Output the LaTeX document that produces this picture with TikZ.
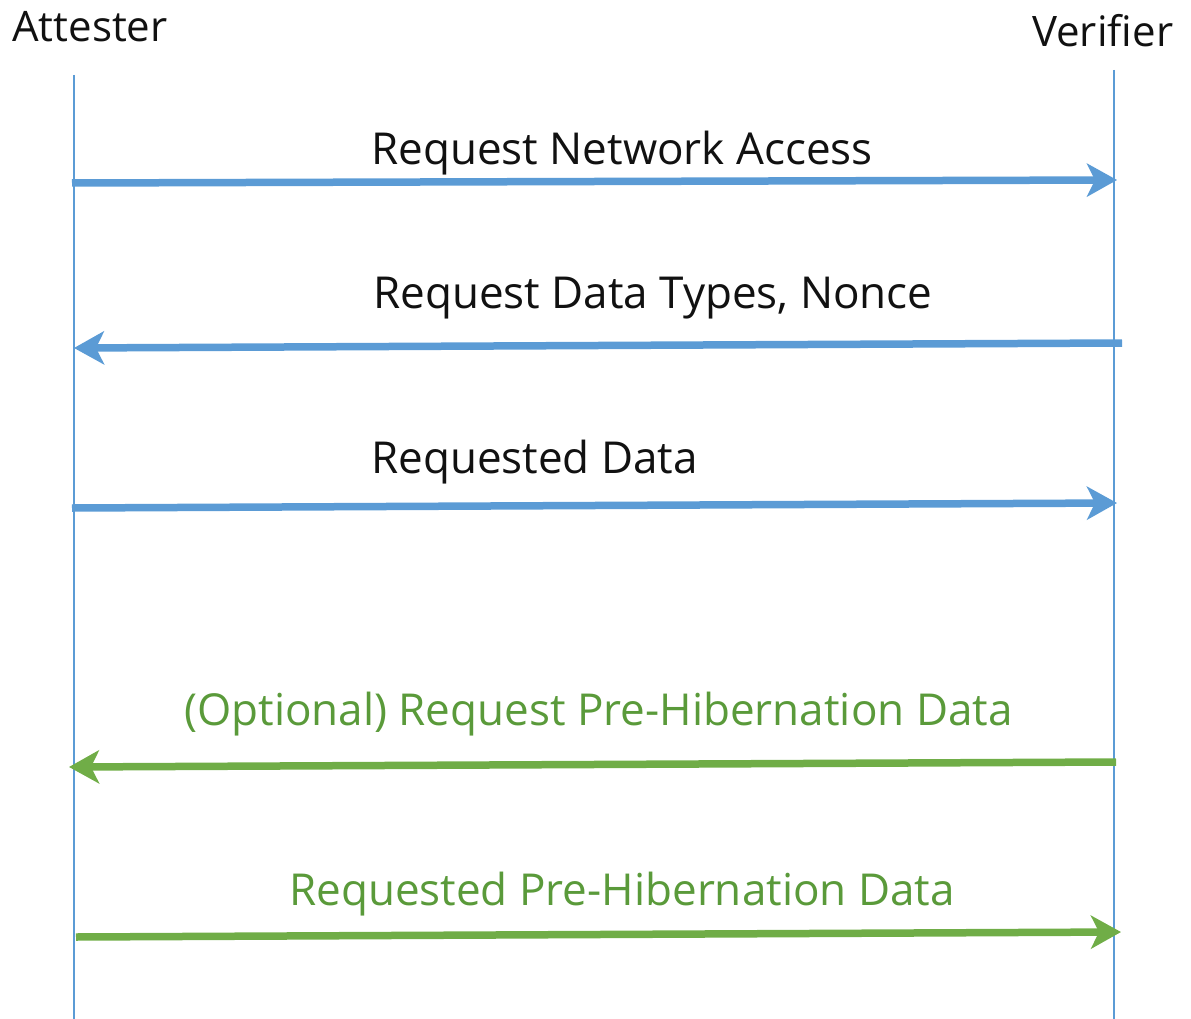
\documentclass[tikz,border=0pt]{standalone}
\usepackage{fontspec}
\setmainfont[Ligatures={NoCommon}]{Open Sans}
\usetikzlibrary{arrows.meta}
\definecolor{lblue}{HTML}{5B9BD5}
\definecolor{lgreen}{HTML}{70AD47}
\definecolor{tgreen}{HTML}{5A9A3A}
\definecolor{tblack}{HTML}{111111}
\tikzset{
  lifeline/.style={draw=lblue, line width=2pt},
  msg/.style={line width=7.5pt, -{Stealth[length=30pt,width=33pt,inset=8pt]}},
  bluemsg/.style={msg, draw=lblue},
  greenmsg/.style={msg, draw=lgreen},
  lbl/.style={anchor=base west, inner sep=0pt, font=\fontsize{44}{52}\selectfont, text=tblack},
  plbl/.style={lbl, font=\fontsize{42}{50}\selectfont},
  glbl/.style={lbl, text=tgreen},
}
\begin{document}
\begin{tikzpicture}[x=1pt,y=-1pt]
\useasboundingbox (0,0) rectangle (1191,1019);
% participants
\node[plbl] (att) at (12,42) {Attester};
\node[plbl] (ver) at (1032,47) {Verifier};
% lifelines
\coordinate (attTop) at (74,75);
\coordinate (attBot) at (74,1019);
\coordinate (verTop) at (1114,70);
\coordinate (verBot) at (1114,1019);
\draw[lifeline] (attTop) -- (attBot);
\draw[lifeline] (verTop) -- (verBot);
% message end points
\coordinate (m1s) at (72,183);  \coordinate (m1e) at (1117,180);
\coordinate (m2s) at (1122,343); \coordinate (m2e) at (74,348);
\coordinate (m3s) at (72,508);  \coordinate (m3e) at (1117,503);
\coordinate (m4s) at (1116,762); \coordinate (m4e) at (69,767);
\coordinate (m5s) at (76,937);  \coordinate (m5e) at (1121,932);
\draw[bluemsg] (m1s) -- (m1e);
\draw[bluemsg] (m2s) -- (m2e);
\draw[bluemsg] (m3s) -- (m3e);
\draw[greenmsg] (m4s) -- (m4e);
\draw[greenmsg] (m5s) -- (m5e);
% labels
\node[lbl] (l1) at (371,165) {Request Network Access};
\node[lbl] (l2) at (373,308) {Request Data Types, Nonce};
\node[lbl] (l3) at (371,473) {Requested Data};
\node[glbl] (l4) at (184,725) {(Optional) Request Pre-Hibernation Data};
\node[glbl] (l5) at (289,905) {Requested Pre-Hibernation Data};
\end{tikzpicture}
\end{document}
